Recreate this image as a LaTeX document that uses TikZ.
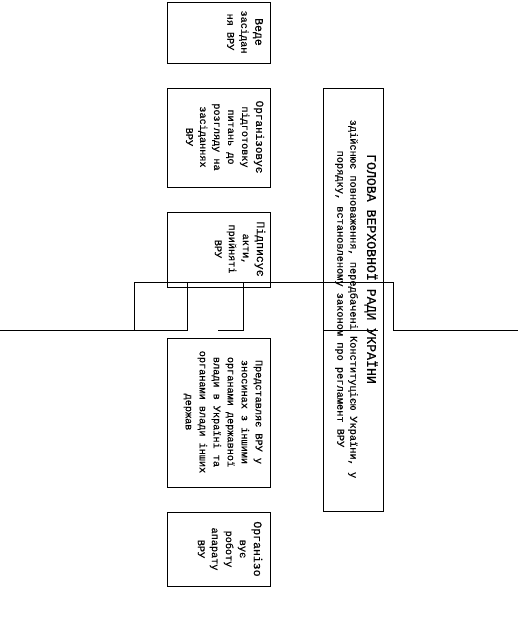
\documentclass[tikz,border=0pt]{standalone}
\usepackage{fontspec}
\newfontfamily\rfont[FakeBold=0.5]{Liberation Mono}
\begin{document}
\begin{tikzpicture}[x=1bp,y=-1bp,
  box/.style={draw=black,line width=0.9bp,inner sep=0pt,minimum width=103bp},
  txt/.style={rotate=-90,align=center,inner sep=0pt,font=\rfont\fontsize{10.2bp}{14bp}\selectfont},
  head/.style={rotate=-90,align=center,inner sep=0pt,font=\rfont\fontsize{13.2bp}{16bp}\selectfont},
  sub/.style={rotate=-90,align=center,inner sep=0pt,font=\rfont\fontsize{10.3bp}{13bp}\selectfont},
  wire/.style={draw=black,line width=0.9bp}]
\useasboundingbox (0,0) rectangle (518,637);
% boxes
\node[box,minimum height=61bp] (b1) at (218.5,32.5) {};
\node[box,minimum height=99bp] (b2) at (218.5,137.5) {};
\node[box,minimum height=75bp] (b3) at (218.5,249.5) {};
\node[box,minimum height=149bp] (b4) at (218.5,412.5) {};
\node[box,minimum height=74bp] (b5) at (218.5,549) {};
\node[draw=black,line width=0.9bp,inner sep=0pt,minimum width=59.5bp,minimum height=423bp] (big) at (353.25,299.5) {};
% texts
\node[txt] (t1) at (245,32) {{\fontsize{11.5bp}{14bp}\selectfont Веде}\\засідан\\ня ВРУ};
\node[txt] (t2) at (225,137) {{\fontsize{11bp}{14bp}\selectfont Організовує}\\підготовку\\питань до\\розгляду на\\засіданнях\\ВРУ};
\node[txt] (t3) at (240,249) {{\fontsize{11.5bp}{14bp}\selectfont Підписує}\\акти,\\прийняті\\ВРУ};
\node[txt] (t4) at (223,412) {Представляє ВРУ у\\зносинах з іншими\\органами державної\\влади в Україні та\\органами влади інших\\держав};
\node[txt] (t5) at (230,549) {{\fontsize{11.5bp}{14bp}\selectfont Організо}\\вує\\роботу\\апарату\\ВРУ};
\node[head] (h) at (371,269) {ГОЛОВА ВЕРХОВНОЇ РАДИ УКРАЇНИ};
\node[sub] (s) at (346.5,299) {здійснює повноваження, передбачені Конституцією України, у\\порядку, встановленому законом про регламент ВРУ};
% connector lines
\coordinate (a0) at (0,330.5);
\coordinate (a1) at (134,330.5);
\coordinate (a2) at (134,282);
\coordinate (a3) at (187.5,282);
\coordinate (a4) at (187.5,330.5);
\coordinate (c1) at (218,330.5);
\coordinate (c2) at (243,330.5);
\coordinate (c3) at (243,282);
\coordinate (d1) at (323.5,282);
\coordinate (d2) at (323.5,330.5);
\coordinate (d3) at (378,330.5);
\coordinate (e1) at (393,282);
\coordinate (e2) at (393,330.5);
\coordinate (e3) at (518,330.5);
\draw[wire] (a0) -- (a4) -- (a3);
\draw[wire] (a1) -- (a2) -- (e1) -- (e2) -- (e3);
\draw[wire] (c1) -- (c2) -- (c3);
\draw[wire] (d1) -- (d2) -- (d3);
\end{tikzpicture}
\end{document}
